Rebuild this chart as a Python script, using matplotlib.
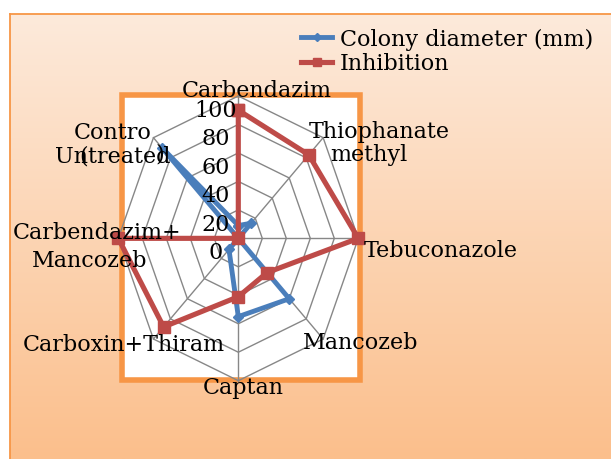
import numpy as np
import matplotlib
matplotlib.use("Agg")
import matplotlib.pyplot as plt
from matplotlib.patches import Rectangle
from matplotlib.lines import Line2D

# ---- data ----
categories = ["Carbendazim", "Thiophanate methyl", "Tebuconazole", "Mancozeb",
              "Captan", "Carboxin+Thiram", "Carbendazim+Mancozeb", "Control (Untreated)"]
colony_diameter = [9, 15, 0, 60, 55, 11, 0, 90]
inhibition = [90, 83, 100, 34, 41, 88, 100, 0]
radial_ticks = [0, 20, 40, 60, 80, 100]
series_names = ["Colony diameter (mm)", "Inhibition"]

W, H = 611, 460
plt.rcParams['font.family'] = ['DejaVu Serif']
FS = 16

fig = plt.figure(figsize=(W / 100, H / 100), dpi=100)
fig.patch.set_facecolor("white")

def fx(x):
    return x / W

def fy(y):
    return 1 - y / H

# ---- gradient background ----
bg = fig.add_axes([fx(9.5), 0, 1 - fx(9.5), fy(14.5)], zorder=-3)
top = np.array([253, 234, 219]) / 255
bot = np.array([251, 191, 140]) / 255
t = np.linspace(0, 1, 256)[:, None, None]
grad = top * (1 - t) + bot * t
bg.imshow(grad, aspect="auto", extent=[0, 1, 0, 1])
bg.set_axis_off()
orange = "#F79646"
fig.add_artist(Line2D([fx(9.5), fx(9.5)], [0, fy(14.5)], color=orange, lw=1.3, zorder=-2))
fig.add_artist(Line2D([fx(9.5), 1], [fy(14.5), fy(14.5)], color=orange, lw=1.3, zorder=-2))

# ---- plot area box ----
box = Rectangle((fx(121.5), fy(380.5)), fx(359.5) - fx(121.5), fy(96) - fy(380.5),
                transform=fig.transFigure, facecolor="white", edgecolor=orange,
                lw=4.0, zorder=-1)
fig.add_artist(box)

# ---- radar axes ----
ax = fig.add_axes([fx(118.3), fy(381.7), fx(358.3) - fx(118.3), fy(97) - fy(381.7)],
                  projection="polar", zorder=0)
ax.set_aspect("auto")
ax.patch.set_visible(False)
ax.spines["polar"].set_visible(False)
ax.set_theta_zero_location("N")
ax.set_theta_direction(-1)
ax.set_ylim(0, 100)
ax.set_xticks([])
ax.set_yticks([])
ax.grid(False)

n = len(categories)
angles = np.arange(n) * 2 * np.pi / n
closed = np.append(angles, angles[0])

gcol = "#878787"
for r in radial_ticks[1:]:
    ax.plot(closed, [r] * (n + 1), color=gcol, lw=1.0, clip_on=False, zorder=1)
for a in angles:
    ax.plot([a, a], [0, 100], color=gcol, lw=1.0, clip_on=False, zorder=1)

blue = "#4A7EBB"
red = "#BE4B48"
ax.plot(closed, colony_diameter + [colony_diameter[0]], color=blue, lw=3.5,
        marker="D", markersize=5.5, clip_on=False, zorder=3, label=series_names[0])
ax.plot(closed, inhibition + [inhibition[0]], color=red, lw=3.7,
        marker="s", markersize=8.5, clip_on=False, zorder=4, label=series_names[1])

for v in radial_ticks:
    ax.annotate(str(v), xy=(0, v), xytext=(-23, -14), textcoords="offset pixels",
                ha="center", va="center", fontsize=FS, zorder=5, annotation_clip=False)

# ---- category labels ----
def lab(txt, x, y, ha="center"):
    fig.text(fx(x), fy(y), txt, ha=ha, va="center", fontsize=FS)

lab("Carbendazim", 257, 91)
lab("Thiophanate", 379, 132)
lab("methyl", 369, 155)
lab("Tebuconazole", 364, 251, ha="left")
lab("Mancozeb", 361, 343)
lab("Captan", 243, 388)
lab("Carboxin+Thiram", 124, 345)
lab("Carbendazim+", 97.5, 233)
lab("Mancozeb", 90, 261)
lab("Contro", 112.5, 133)
lab("Untreated", 113, 157)
lab("(", 84, 157)
lab(")", 160, 155)

# ---- legend ----
fig.legend(loc="upper left", bbox_to_anchor=(fx(301), fy(29)), frameon=False,
           borderpad=0, borderaxespad=0, handlelength=1.4, handletextpad=0.35,
           labelspacing=0.1, fontsize=FS, markerscale=0.7)

fig.savefig("out.png", dpi=100)
